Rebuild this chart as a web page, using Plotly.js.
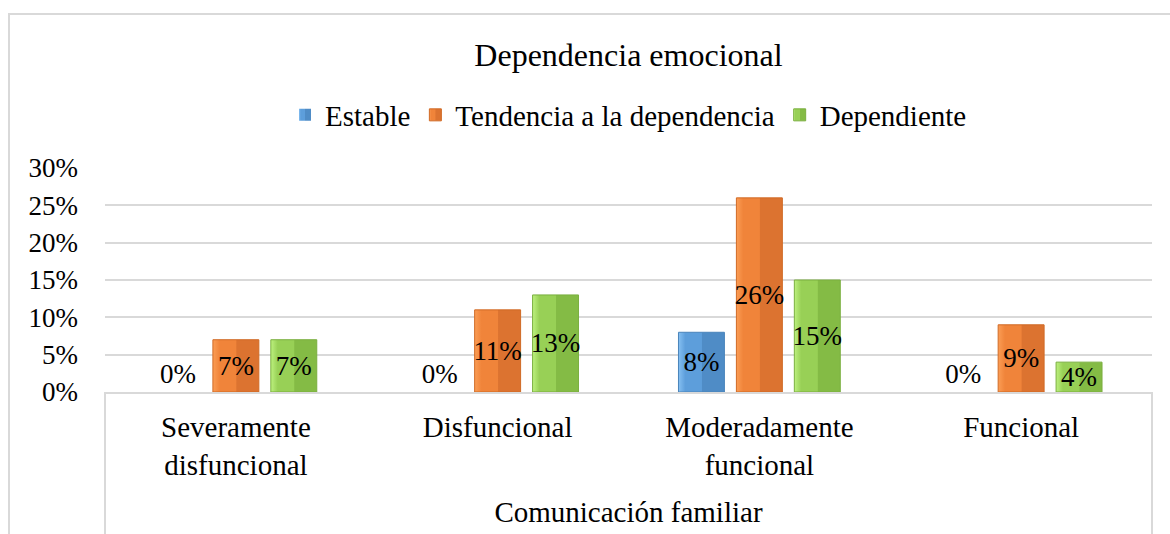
<!DOCTYPE html>
<html>
<head>
<meta charset="utf-8">
<script src="https://cdn.plot.ly/plotly-3.0.1.min.js"></script>
<style>
  html, body { margin: 0; padding: 0; background: #ffffff; }
  #chart { width: 1170px; height: 534px; }
</style>
</head>
<body>
<div id="chart"></div>
<script>
// ---- Data ----
const categories = ["Severamente<br>disfuncional", "Disfuncional", "Moderadamente<br>funcional", "Funcional"];
const seriesNames = ["Estable", "Tendencia a la dependencia", "Dependiente"];
const estable = [0.00, 0.00, 0.08, 0.00];
const tendencia = [0.07, 0.11, 0.26, 0.09];
const dependiente = [0.07, 0.13, 0.15, 0.04];
const yTickVals = [0, 0.05, 0.10, 0.15, 0.20, 0.25, 0.30];
const yTickText = ["0%", "5%", "10%", "15%", "20%", "25%", "30%"];
const chartTitle = "Dependencia emocional";
const xAxisTitle = "Comunicación familiar";

// ---- Styles ----
const FONT = "Liberation Serif, Times New Roman, serif";
const colors = ["#5d9edb", "#f0843a", "#98d056"];
const lineColors = ["#4a84bb", "#d06a25", "#7aaf3f"];
const gradStops = [
  ["#86c0f2", "#5d9edb", "#4f8cc6"],
  ["#fb9d55", "#f0843a", "#dc7330"],
  ["#bdf17f", "#98d056", "#84bb45"]
];
const allSeries = [estable, tendencia, dependiente];

function pctLabel(v) { return Math.round(v * 100) + "%"; }

const traces = allSeries.map((vals, i) => ({
  type: "bar",
  name: seriesNames[i],
  x: categories,
  y: vals,
  text: vals.map(pctLabel),
  textposition: vals.map(v => v === 0 ? "outside" : "inside"),
  insidetextanchor: "middle",
  textangle: 0,
  constraintext: "none",
  cliponaxis: false,
  textfont: { family: FONT, size: 27, color: "#000000" },
  marker: { color: colors[i], line: { color: lineColors[i], width: vals.map(v => v === 0 ? 0 : 1) } },
  hoverinfo: "x+y+name"
}));

const X0 = 105, X1 = 1152, Y0 = 168, Y1 = 392, W = 1170, H = 534;
const pw = X1 - X0, ph = Y1 - Y0;
const px = v => (v - X0) / pw;
const py = v => (Y1 - v) / ph;
const border = { color: "#d9d9d9", width: 2 };

const layout = {
  width: W, height: H,
  margin: { l: X0, r: W - X1, t: Y0, b: H - Y1, pad: 0 },
  paper_bgcolor: "#ffffff",
  plot_bgcolor: "#ffffff",
  font: { family: FONT, color: "#000000", size: 29 },
  title: {
    text: chartTitle,
    font: { family: FONT, size: 32, color: "#000000" },
    x: 0.5, xref: "paper", xanchor: "center",
    y: 1 - 55 / H, yref: "container", yanchor: "middle"
  },
  barmode: "group",
  bargap: 0.336,
  bargroupgap: 0.207,
  showlegend: true,
  legend: {
    orientation: "h",
    x: 0.5, xanchor: "center", xref: "paper",
    y: 1 - 115 / H, yref: "container", yanchor: "middle",
    font: { family: FONT, size: 29, color: "#000000" },
    itemclick: false, itemdoubleclick: false,
    bgcolor: "rgba(0,0,0,0)",
    itemwidth: 30,
    traceorder: "normal"
  },
  xaxis: {
    type: "category",
    showgrid: false,
    showline: true, linecolor: "#d9d9d9", linewidth: 2,
    ticks: "",
    tickfont: { family: FONT, size: 29, color: "#000000" },
    ticklabelstandoff: 8,
    title: { text: xAxisTitle, font: { family: FONT, size: 29, color: "#000000" }, standoff: 22 },
    automargin: false,
    fixedrange: true
  },
  yaxis: {
    range: [0, 0.30],
    tickvals: yTickVals,
    ticktext: yTickText,
    showgrid: true, gridcolor: "#d9d9d9", gridwidth: 2,
    zeroline: false,
    showline: false,
    ticks: "",
    tickfont: { family: FONT, size: 27, color: "#000000" },
    ticklabelstandoff: 26,
    automargin: false,
    fixedrange: true
  },
  shapes: [
    // outer chart border (left + top)
    { type: "line", xref: "paper", yref: "paper", x0: px(9), x1: px(9), y0: py(14), y1: py(H + 5), line: border, layer: "below" },
    { type: "line", xref: "paper", yref: "paper", x0: px(8), x1: px(W + 5), y0: py(14), y1: py(14), line: border, layer: "below" },
    // category box below the axis
    { type: "line", xref: "paper", yref: "paper", x0: 0, x1: 0, y0: 0, y1: py(H + 5), line: border, layer: "below" },
    { type: "line", xref: "paper", yref: "paper", x0: 1, x1: 1, y0: 0, y1: py(H + 5), line: border, layer: "below" }
  ]
};

Plotly.newPlot("chart", traces, layout, { displayModeBar: false }).then(gd => {
  // add bevel-like gradients to bars
  const svgNS = "http://www.w3.org/2000/svg";
  const svg = gd.querySelector("svg.main-svg");
  let defs = svg.querySelector("defs");
  if (!defs) { defs = document.createElementNS(svgNS, "defs"); svg.insertBefore(defs, svg.firstChild); }
  gradStops.forEach((s, i) => {
    const g = document.createElementNS(svgNS, "linearGradient");
    g.setAttribute("id", "bevel" + i);
    g.setAttribute("x1", "0"); g.setAttribute("y1", "0");
    g.setAttribute("x2", "1"); g.setAttribute("y2", "0");
    [[0, s[0]], [0.15, s[1]], [0.5, s[1]], [0.52, s[2]], [1, s[2]]].forEach(([o, c]) => {
      const st = document.createElementNS(svgNS, "stop");
      st.setAttribute("offset", o);
      st.setAttribute("stop-color", c);
      g.appendChild(st);
    });
    defs.appendChild(g);
  });
  gd.querySelectorAll(".barlayer .trace").forEach((tr, i) => {
    tr.querySelectorAll(".point path").forEach(p => { p.style.fill = "url(#bevel" + i + ")"; });
  });
  gd.querySelectorAll(".legend .traces").forEach((tr, i) => {
    tr.querySelectorAll(".legendpoints path").forEach(p => { p.style.fill = "url(#bevel" + i + ")"; });
  });
});
</script>
</body>
</html>
